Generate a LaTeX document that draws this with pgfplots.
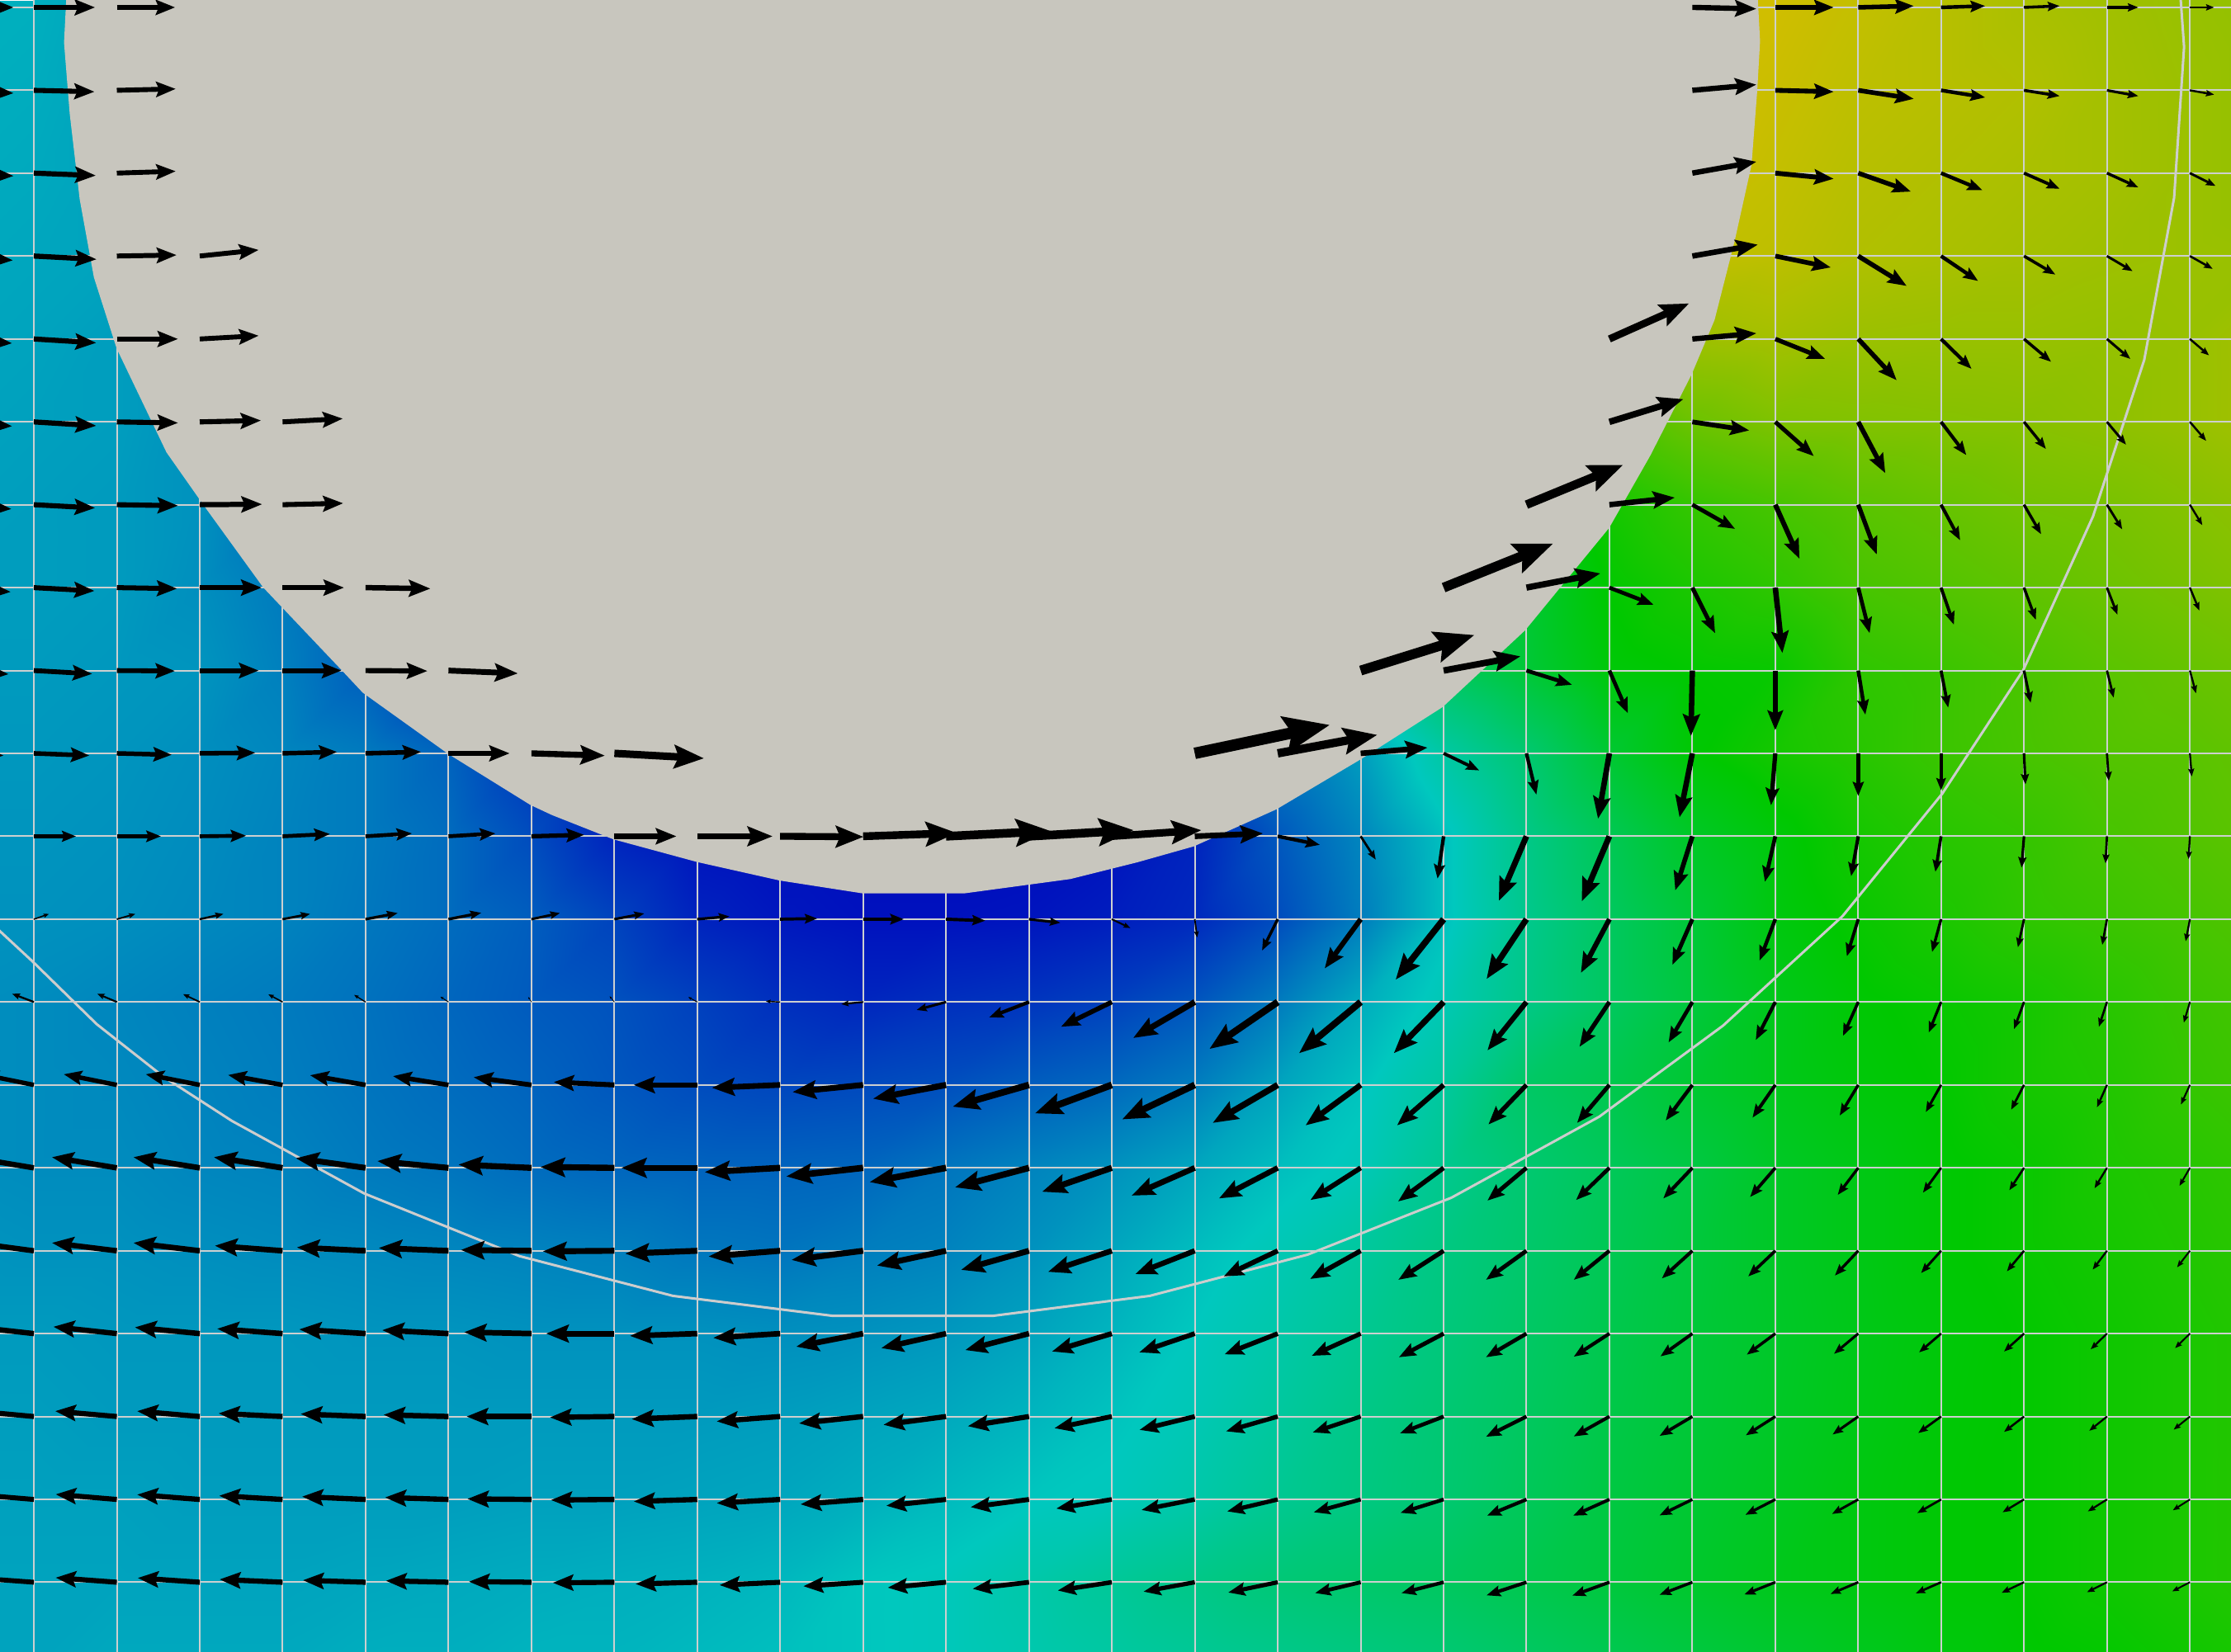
\documentclass[border=0pt]{standalone}
\usepackage{pgfplots}
\usepackage{pgfplotstable}
\pgfplotsset{compat=1.18}
\usetikzlibrary{arrows.meta}
\definecolor{diskgray}{RGB}{200,198,190}
\definecolor{meshline}{RGB}{205,208,208}
\definecolor{edgeline}{RGB}{205,205,205}

% scalar field on the mesh nodes (29 per row)
\pgfplotstableread[row sep=\\]{
x y s\\
-34.5 -53.7 29.5\\ 23.8 -53.7 29\\ 82.1 -53.7 27\\ 140.4 -53.7 24\\ 198.6 -53.7 18\\ 256.9 -53.7 12\\ 315.2 -53.7 8\\ 373.5 -53.7 5\\ 431.8 -53.7 3\\ 490 -53.7 2\\ 548.3 -53.7 2\\ 606.6 -53.7 2\\ 664.9 -53.7 2\\ 723.2 -53.7 2\\ 781.4 -53.7 2\\ 839.7 -53.7 4\\ 898 -53.7 20\\ 956.3 -53.7 40\\ 1014.6 -53.7 55\\ 1072.8 -53.7 70\\ 1131.1 -53.7 85\\ 1189.4 -53.7 100\\ 1247.7 -53.7 100\\ 1306 -53.7 98\\ 1364.2 -53.7 96\\ 1422.5 -53.7 94\\ 1480.8 -53.7 92.5\\ 1539.1 -53.7 91\\ 1597.4 -53.7 90\\
-34.5 4.6 29.5\\ 23.8 4.6 29\\ 82.1 4.6 27\\ 140.4 4.6 24\\ 198.6 4.6 18\\ 256.9 4.6 12\\ 315.2 4.6 8\\ 373.5 4.6 5\\ 431.8 4.6 3\\ 490 4.6 2\\ 548.3 4.6 2\\ 606.6 4.6 2\\ 664.9 4.6 2\\ 723.2 4.6 2\\ 781.4 4.6 2\\ 839.7 4.6 4\\ 898 4.6 20\\ 956.3 4.6 40\\ 1014.6 4.6 55\\ 1072.8 4.6 70\\ 1131.1 4.6 85\\ 1189.4 4.6 100\\ 1247.7 4.6 100\\ 1306 4.6 98\\ 1364.2 4.6 96\\ 1422.5 4.6 94\\ 1480.8 4.6 92.5\\ 1539.1 4.6 91\\ 1597.4 4.6 90\\
-34.5 62.9 29\\ 23.8 62.9 28.5\\ 82.1 62.9 27\\ 140.4 62.9 24\\ 198.6 62.9 18\\ 256.9 62.9 12\\ 315.2 62.9 8\\ 373.5 62.9 5\\ 431.8 62.9 3\\ 490 62.9 2\\ 548.3 62.9 2\\ 606.6 62.9 2\\ 664.9 62.9 2\\ 723.2 62.9 2\\ 781.4 62.9 2\\ 839.7 62.9 4\\ 898 62.9 20\\ 956.3 62.9 40\\ 1014.6 62.9 55\\ 1072.8 62.9 70\\ 1131.1 62.9 85\\ 1189.4 62.9 100\\ 1247.7 62.9 99\\ 1306 62.9 97\\ 1364.2 62.9 96\\ 1422.5 62.9 95\\ 1480.8 62.9 93\\ 1539.1 62.9 91.5\\ 1597.4 62.9 90\\
-34.5 121.1 28.5\\ 23.8 121.1 28\\ 82.1 121.1 27\\ 140.4 121.1 24\\ 198.6 121.1 18\\ 256.9 121.1 12\\ 315.2 121.1 8\\ 373.5 121.1 5\\ 431.8 121.1 3\\ 490 121.1 2\\ 548.3 121.1 2\\ 606.6 121.1 2\\ 664.9 121.1 2\\ 723.2 121.1 2\\ 781.4 121.1 2\\ 839.7 121.1 4\\ 898 121.1 20\\ 956.3 121.1 40\\ 1014.6 121.1 55\\ 1072.8 121.1 70\\ 1131.1 121.1 85\\ 1189.4 121.1 100\\ 1247.7 121.1 98\\ 1306 121.1 96\\ 1364.2 121.1 95\\ 1422.5 121.1 94\\ 1480.8 121.1 93\\ 1539.1 121.1 91.5\\ 1597.4 121.1 90\\
-34.5 179.4 28\\ 23.8 179.4 27.5\\ 82.1 179.4 27\\ 140.4 179.4 24\\ 198.6 179.4 18\\ 256.9 179.4 12\\ 315.2 179.4 8\\ 373.5 179.4 5\\ 431.8 179.4 3\\ 490 179.4 2\\ 548.3 179.4 2\\ 606.6 179.4 2\\ 664.9 179.4 2\\ 723.2 179.4 2\\ 781.4 179.4 2\\ 839.7 179.4 4\\ 898 179.4 20\\ 956.3 179.4 40\\ 1014.6 179.4 55\\ 1072.8 179.4 70\\ 1131.1 179.4 80\\ 1189.4 179.4 98\\ 1247.7 179.4 97\\ 1306 179.4 95\\ 1364.2 179.4 94\\ 1422.5 179.4 93\\ 1480.8 179.4 92\\ 1539.1 179.4 91.5\\ 1597.4 179.4 91\\
-34.5 237.7 27.5\\ 23.8 237.7 27\\ 82.1 237.7 26\\ 140.4 237.7 24\\ 198.6 237.7 18\\ 256.9 237.7 12\\ 315.2 237.7 8\\ 373.5 237.7 5\\ 431.8 237.7 3\\ 490 237.7 2\\ 548.3 237.7 2\\ 606.6 237.7 2\\ 664.9 237.7 2\\ 723.2 237.7 2\\ 781.4 237.7 2\\ 839.7 237.7 4\\ 898 237.7 20\\ 956.3 237.7 40\\ 1014.6 237.7 55\\ 1072.8 237.7 70\\ 1131.1 237.7 80\\ 1189.4 237.7 92\\ 1247.7 237.7 93\\ 1306 237.7 91.5\\ 1364.2 237.7 91\\ 1422.5 237.7 91\\ 1480.8 237.7 90.5\\ 1539.1 237.7 91\\ 1597.4 237.7 93\\
-34.5 296 27\\ 23.8 296 26.5\\ 82.1 296 26\\ 140.4 296 24\\ 198.6 296 18\\ 256.9 296 12\\ 315.2 296 8\\ 373.5 296 5\\ 431.8 296 3\\ 490 296 2\\ 548.3 296 2\\ 606.6 296 2\\ 664.9 296 2\\ 723.2 296 2\\ 781.4 296 2\\ 839.7 296 4\\ 898 296 20\\ 956.3 296 40\\ 1014.6 296 55\\ 1072.8 296 70\\ 1131.1 296 78\\ 1189.4 296 84\\ 1247.7 296 87\\ 1306 296 87.5\\ 1364.2 296 88\\ 1422.5 296 88.5\\ 1480.8 296 89.5\\ 1539.1 296 91\\ 1597.4 296 93\\
-34.5 354.2 26.5\\ 23.8 354.2 26\\ 82.1 354.2 25.5\\ 140.4 354.2 24\\ 198.6 354.2 18\\ 256.9 354.2 12\\ 315.2 354.2 8\\ 373.5 354.2 5\\ 431.8 354.2 3\\ 490 354.2 2\\ 548.3 354.2 2\\ 606.6 354.2 2\\ 664.9 354.2 2\\ 723.2 354.2 2\\ 781.4 354.2 2\\ 839.7 354.2 4\\ 898 354.2 20\\ 956.3 354.2 40\\ 1014.6 354.2 52\\ 1072.8 354.2 60\\ 1131.1 354.2 70\\ 1189.4 354.2 75\\ 1247.7 354.2 78\\ 1306 354.2 81\\ 1364.2 354.2 83\\ 1422.5 354.2 85\\ 1480.8 354.2 86\\ 1539.1 354.2 88\\ 1597.4 354.2 90\\
-34.5 412.5 26\\ 23.8 412.5 26\\ 82.1 412.5 25.5\\ 140.4 412.5 23.5\\ 198.6 412.5 20\\ 256.9 412.5 15\\ 315.2 412.5 8\\ 373.5 412.5 5\\ 431.8 412.5 3\\ 490 412.5 2\\ 548.3 412.5 2\\ 606.6 412.5 2\\ 664.9 412.5 2\\ 723.2 412.5 2\\ 781.4 412.5 2\\ 839.7 412.5 4\\ 898 412.5 20\\ 956.3 412.5 40\\ 1014.6 412.5 52\\ 1072.8 412.5 58\\ 1131.1 412.5 67\\ 1189.4 412.5 71\\ 1247.7 412.5 74\\ 1306 412.5 78\\ 1364.2 412.5 80\\ 1422.5 412.5 82\\ 1480.8 412.5 84\\ 1539.1 412.5 86\\ 1597.4 412.5 88\\
-34.5 470.8 25.5\\ 23.8 470.8 25.5\\ 82.1 470.8 25\\ 140.4 470.8 24.5\\ 198.6 470.8 21\\ 256.9 470.8 15\\ 315.2 470.8 8\\ 373.5 470.8 5\\ 431.8 470.8 3\\ 490 470.8 2\\ 548.3 470.8 2\\ 606.6 470.8 2\\ 664.9 470.8 2\\ 723.2 470.8 2\\ 781.4 470.8 2\\ 839.7 470.8 4\\ 898 470.8 20\\ 956.3 470.8 30\\ 1014.6 470.8 50\\ 1072.8 470.8 57\\ 1131.1 470.8 65\\ 1189.4 470.8 67\\ 1247.7 470.8 68\\ 1306 470.8 74\\ 1364.2 470.8 76\\ 1422.5 470.8 78.5\\ 1480.8 470.8 81\\ 1539.1 470.8 83\\ 1597.4 470.8 85\\
-34.5 529 25\\ 23.8 529 25\\ 82.1 529 24.5\\ 140.4 529 23.5\\ 198.6 529 22\\ 256.9 529 20\\ 315.2 529 16\\ 373.5 529 8\\ 431.8 529 5\\ 490 529 2\\ 548.3 529 2\\ 606.6 529 2\\ 664.9 529 2\\ 723.2 529 2\\ 781.4 529 2\\ 839.7 529 4\\ 898 529 20\\ 956.3 529 26\\ 1014.6 529 38\\ 1072.8 529 47\\ 1131.1 529 58\\ 1189.4 529 66\\ 1247.7 529 70\\ 1306 529 73\\ 1364.2 529 76\\ 1422.5 529 78\\ 1480.8 529 80\\ 1539.1 529 81\\ 1597.4 529 83\\
-34.5 587.3 24.5\\ 23.8 587.3 24.5\\ 82.1 587.3 24\\ 140.4 587.3 23\\ 198.6 587.3 21.5\\ 256.9 587.3 20\\ 315.2 587.3 17.5\\ 373.5 587.3 12\\ 431.8 587.3 5\\ 490 587.3 2\\ 548.3 587.3 1\\ 606.6 587.3 1\\ 664.9 587.3 1\\ 723.2 587.3 1\\ 781.4 587.3 2\\ 839.7 587.3 5\\ 898 587.3 14\\ 956.3 587.3 22\\ 1014.6 587.3 32\\ 1072.8 587.3 43\\ 1131.1 587.3 52\\ 1189.4 587.3 60\\ 1247.7 587.3 65\\ 1306 587.3 70\\ 1364.2 587.3 73\\ 1422.5 587.3 75\\ 1480.8 587.3 78\\ 1539.1 587.3 80\\ 1597.4 587.3 82\\
-34.5 645.6 24\\ 23.8 645.6 24\\ 82.1 645.6 23.5\\ 140.4 645.6 22.5\\ 198.6 645.6 21.5\\ 256.9 645.6 19.5\\ 315.2 645.6 17.5\\ 373.5 645.6 15\\ 431.8 645.6 10.5\\ 490 645.6 5\\ 548.3 645.6 3\\ 606.6 645.6 2\\ 664.9 645.6 2\\ 723.2 645.6 2.5\\ 781.4 645.6 4\\ 839.7 645.6 6\\ 898 645.6 12\\ 956.3 645.6 20.5\\ 1014.6 645.6 32\\ 1072.8 645.6 42\\ 1131.1 645.6 50\\ 1189.4 645.6 57\\ 1247.7 645.6 64\\ 1306 645.6 68\\ 1364.2 645.6 71\\ 1422.5 645.6 74\\ 1480.8 645.6 76\\ 1539.1 645.6 78\\ 1597.4 645.6 80\\
-34.5 703.8 23.5\\ 23.8 703.8 23\\ 82.1 703.8 22\\ 140.4 703.8 21\\ 198.6 703.8 20\\ 256.9 703.8 18.5\\ 315.2 703.8 16.5\\ 373.5 703.8 14.5\\ 431.8 703.8 13\\ 490 703.8 10\\ 548.3 703.8 7\\ 606.6 703.8 5.5\\ 664.9 703.8 7\\ 723.2 703.8 8\\ 781.4 703.8 10\\ 839.7 703.8 13.5\\ 898 703.8 20\\ 956.3 703.8 28.5\\ 1014.6 703.8 35\\ 1072.8 703.8 43\\ 1131.1 703.8 50\\ 1189.4 703.8 56\\ 1247.7 703.8 62\\ 1306 703.8 66\\ 1364.2 703.8 68\\ 1422.5 703.8 70\\ 1480.8 703.8 73\\ 1539.1 703.8 76\\ 1597.4 703.8 78\\
-34.5 762.1 23.5\\ 23.8 762.1 23\\ 82.1 762.1 22.5\\ 140.4 762.1 21.5\\ 198.6 762.1 20.5\\ 256.9 762.1 19\\ 315.2 762.1 17.5\\ 373.5 762.1 16\\ 431.8 762.1 14\\ 490 762.1 12\\ 548.3 762.1 11\\ 606.6 762.1 11.5\\ 664.9 762.1 12.5\\ 723.2 762.1 15\\ 781.4 762.1 17\\ 839.7 762.1 20.5\\ 898 762.1 27\\ 956.3 762.1 32.5\\ 1014.6 762.1 39\\ 1072.8 762.1 49\\ 1131.1 762.1 53\\ 1189.4 762.1 58\\ 1247.7 762.1 62\\ 1306 762.1 65\\ 1364.2 762.1 67\\ 1422.5 762.1 70\\ 1480.8 762.1 72\\ 1539.1 762.1 75\\ 1597.4 762.1 77\\
-34.5 820.4 23.5\\ 23.8 820.4 23\\ 82.1 820.4 23\\ 140.4 820.4 22\\ 198.6 820.4 21.5\\ 256.9 820.4 20\\ 315.2 820.4 19\\ 373.5 820.4 17.5\\ 431.8 820.4 16.5\\ 490 820.4 16\\ 548.3 820.4 16\\ 606.6 820.4 16.5\\ 664.9 820.4 19\\ 723.2 820.4 21.5\\ 781.4 820.4 24\\ 839.7 820.4 27.5\\ 898 820.4 31.5\\ 956.3 820.4 34.5\\ 1014.6 820.4 41.5\\ 1072.8 820.4 47\\ 1131.1 820.4 51\\ 1189.4 820.4 55\\ 1247.7 820.4 60\\ 1306 820.4 63\\ 1364.2 820.4 66\\ 1422.5 820.4 68\\ 1480.8 820.4 71\\ 1539.1 820.4 73\\ 1597.4 820.4 75\\
-34.5 878.7 24.5\\ 23.8 878.7 24\\ 82.1 878.7 24\\ 140.4 878.7 23.5\\ 198.6 878.7 23\\ 256.9 878.7 22.5\\ 315.2 878.7 22\\ 373.5 878.7 21.5\\ 431.8 878.7 21\\ 490 878.7 19.5\\ 548.3 878.7 19\\ 606.6 878.7 20.5\\ 664.9 878.7 21.5\\ 723.2 878.7 24\\ 781.4 878.7 27.5\\ 839.7 878.7 31.5\\ 898 878.7 35\\ 956.3 878.7 39\\ 1014.6 878.7 44\\ 1072.8 878.7 48\\ 1131.1 878.7 52\\ 1189.4 878.7 56\\ 1247.7 878.7 60\\ 1306 878.7 63\\ 1364.2 878.7 66\\ 1422.5 878.7 68\\ 1480.8 878.7 70\\ 1539.1 878.7 72\\ 1597.4 878.7 74\\
-34.5 936.9 25.5\\ 23.8 936.9 25.5\\ 82.1 936.9 25\\ 140.4 936.9 25\\ 198.6 936.9 25\\ 256.9 936.9 24.5\\ 315.2 936.9 24.5\\ 373.5 936.9 24\\ 431.8 936.9 24\\ 490 936.9 24\\ 548.3 936.9 23.5\\ 606.6 936.9 24\\ 664.9 936.9 25\\ 723.2 936.9 27\\ 781.4 936.9 30\\ 839.7 936.9 33.5\\ 898 936.9 37\\ 956.3 936.9 41\\ 1014.6 936.9 45\\ 1072.8 936.9 49\\ 1131.1 936.9 53\\ 1189.4 936.9 56.5\\ 1247.7 936.9 59.5\\ 1306 936.9 62.5\\ 1364.2 936.9 65\\ 1422.5 936.9 67\\ 1480.8 936.9 69\\ 1539.1 936.9 71\\ 1597.4 936.9 73\\
-34.5 995.2 26\\ 23.8 995.2 26\\ 82.1 995.2 25.5\\ 140.4 995.2 25.5\\ 198.6 995.2 25.5\\ 256.9 995.2 25.5\\ 315.2 995.2 25.5\\ 373.5 995.2 25.5\\ 431.8 995.2 25.5\\ 490 995.2 25.5\\ 548.3 995.2 26\\ 606.6 995.2 27\\ 664.9 995.2 28\\ 723.2 995.2 30\\ 781.4 995.2 32.5\\ 839.7 995.2 35\\ 898 995.2 39\\ 956.3 995.2 43\\ 1014.6 995.2 46.5\\ 1072.8 995.2 50\\ 1131.1 995.2 54\\ 1189.4 995.2 57\\ 1247.7 995.2 60\\ 1306 995.2 63\\ 1364.2 995.2 65.5\\ 1422.5 995.2 67\\ 1480.8 995.2 69\\ 1539.1 995.2 71\\ 1597.4 995.2 73\\
-34.5 1053.5 26.5\\ 23.8 1053.5 26.5\\ 82.1 1053.5 26.5\\ 140.4 1053.5 26\\ 198.6 1053.5 26\\ 256.9 1053.5 26\\ 315.2 1053.5 26\\ 373.5 1053.5 26.5\\ 431.8 1053.5 26.5\\ 490 1053.5 27\\ 548.3 1053.5 27.5\\ 606.6 1053.5 29\\ 664.9 1053.5 31\\ 723.2 1053.5 33\\ 781.4 1053.5 34\\ 839.7 1053.5 37\\ 898 1053.5 41\\ 956.3 1053.5 44\\ 1014.6 1053.5 47\\ 1072.8 1053.5 51\\ 1131.1 1053.5 55\\ 1189.4 1053.5 58\\ 1247.7 1053.5 61\\ 1306 1053.5 64\\ 1364.2 1053.5 66\\ 1422.5 1053.5 67\\ 1480.8 1053.5 69\\ 1539.1 1053.5 71\\ 1597.4 1053.5 73\\
-34.5 1111.7 27\\ 23.8 1111.7 27\\ 82.1 1111.7 27\\ 140.4 1111.7 27\\ 198.6 1111.7 27\\ 256.9 1111.7 27.5\\ 315.2 1111.7 28\\ 373.5 1111.7 28.5\\ 431.8 1111.7 29\\ 490 1111.7 29.5\\ 548.3 1111.7 30.5\\ 606.6 1111.7 33\\ 664.9 1111.7 34\\ 723.2 1111.7 37\\ 781.4 1111.7 40\\ 839.7 1111.7 43\\ 898 1111.7 46\\ 956.3 1111.7 48\\ 1014.6 1111.7 50\\ 1072.8 1111.7 53\\ 1131.1 1111.7 56\\ 1189.4 1111.7 59\\ 1247.7 1111.7 62\\ 1306 1111.7 64\\ 1364.2 1111.7 66\\ 1422.5 1111.7 67\\ 1480.8 1111.7 69\\ 1539.1 1111.7 71\\ 1597.4 1111.7 73\\
-34.5 1170 27\\ 23.8 1170 27\\ 82.1 1170 28\\ 140.4 1170 28\\ 198.6 1170 28\\ 256.9 1170 29\\ 315.2 1170 29\\ 373.5 1170 30\\ 431.8 1170 30\\ 490 1170 31\\ 548.3 1170 32\\ 606.6 1170 33\\ 664.9 1170 34\\ 723.2 1170 36\\ 781.4 1170 38\\ 839.7 1170 40\\ 898 1170 42\\ 956.3 1170 44\\ 1014.6 1170 46\\ 1072.8 1170 49\\ 1131.1 1170 52\\ 1189.4 1170 55\\ 1247.7 1170 58\\ 1306 1170 61\\ 1364.2 1170 64\\ 1422.5 1170 66\\ 1480.8 1170 67\\ 1539.1 1170 69\\ 1597.4 1170 71\\
}\field

% velocity vectors: tail x y, then u v
\pgfplotstableread[row sep=\\]{
x y u v\\
-34.5 5.2 44 0\\ 23.8 5.2 43 0\\ 82.1 5.2 41 0\\ 1189.4 5.2 45 1\\ 1247.7 5.2 41 0\\ 1306 5.2 39 -1\\ 1364.2 5.2 31 -1\\ 1422.5 5.2 25 -1\\ 1480.8 5.2 22 0\\ 1539.1 5.2 17 0\\
-34.5 63.5 44 2\\ 23.8 63.5 42.6 1\\ 82.1 63.5 41.4 -1\\ 1189.4 63.5 45 -4\\ 1247.7 63.5 41 1\\ 1306 63.5 39 6\\ 1364.2 63.5 31 5\\ 1422.5 63.5 25 4\\ 1480.8 63.5 22 4\\ 1539.1 63.5 17 3\\
-34.5 121.7 44 2\\ 23.8 121.7 43.5 1.7\\ 82.1 121.7 41.4 -1.3\\ 1189.4 121.7 45 -8\\ 1247.7 121.7 41 4\\ 1306 121.7 37 13\\ 1364.2 121.7 29 12\\ 1422.5 121.7 25 11\\ 1480.8 121.7 22 10\\ 1539.1 121.7 18 9\\
-34.5 180 43.5 3\\ 23.8 180 44 2.3\\ 82.1 180 42 -0.7\\ 140.4 180 41.4 -4.3\\ 1189.4 180 46 -8\\ 1247.7 180 39 8\\ 1306 180 34 21\\ 1364.2 180 26 17.5\\ 1422.5 180 22 13\\ 1480.8 180 18 10.6\\ 1539.1 180 16 9\\
-34.5 238.3 43 3\\ 23.8 238.3 43.8 2.7\\ 82.1 238.3 43 0\\ 140.4 238.3 41.4 -2.3\\ 1131.1 238.3 56 -25\\ 1189.4 238.3 45 -4\\ 1247.7 238.3 35 14\\ 1306 238.3 27 29\\ 1364.2 238.3 21.4 21\\ 1422.5 238.3 19 16\\ 1480.8 238.3 16.4 14\\ 1539.1 238.3 13.4 11.5\\
-34.5 296.6 43 3\\ 23.8 296.6 43.8 2.7\\ 82.1 296.6 43 0.7\\ 140.4 296.6 43 -1\\ 198.6 296.6 42.3 -2.3\\ 1131.1 296.6 52 -16\\ 1189.4 296.6 40 6\\ 1247.7 296.6 27 24\\ 1306 296.6 19 36\\ 1364.2 296.6 17.7 23.3\\ 1422.5 296.6 15.4 19\\ 1480.8 296.6 13.4 16\\ 1539.1 296.6 11.4 13.3\\
-34.5 354.8 42.5 3\\ 23.8 354.8 43 2.3\\ 82.1 354.8 43 0.7\\ 140.4 354.8 43.8 -0.3\\ 198.6 354.8 42.6 -1\\ 1072.8 354.8 68 -28\\ 1131.1 354.8 46 -5\\ 1189.4 354.8 30 17\\ 1247.7 354.8 17 38\\ 1306 354.8 13 35\\ 1364.2 354.8 13.4 25\\ 1422.5 354.8 12 20.7\\ 1480.8 354.8 10.7 17.3\\ 1539.1 354.8 8.7 14.4\\
-34.5 413.1 42 3\\ 23.8 413.1 42.6 2.3\\ 82.1 413.1 42.3 0.7\\ 140.4 413.1 43.5 0\\ 198.6 413.1 43.2 0\\ 256.9 413.1 45.6 0.7\\ 1014.6 413.1 77 -31\\ 1072.8 413.1 52 -10\\ 1131.1 413.1 31 12\\ 1189.4 413.1 16 32\\ 1247.7 413.1 5 46\\ 1306 413.1 8 32\\ 1364.2 413.1 9 26\\ 1422.5 413.1 8.3 22.6\\ 1480.8 413.1 7.4 19\\ 1539.1 413.1 6.7 16.2\\
-34.5 471.4 40.5 2.5\\ 23.8 471.4 41 2.3\\ 82.1 471.4 40.8 0.3\\ 140.4 471.4 41.4 0\\ 198.6 471.4 41.4 0\\ 256.9 471.4 43.5 0.3\\ 315.2 471.4 48.8 2\\ 956.3 471.4 80 -25\\ 1014.6 471.4 54 -10\\ 1072.8 471.4 32 10\\ 1131.1 471.4 13 30\\ 1189.4 471.4 -1 46\\ 1247.7 471.4 0 42\\ 1306 471.4 5 31\\ 1364.2 471.4 5 26\\ 1422.5 471.4 4.7 22.6\\ 1480.8 471.4 4.7 19\\ 1539.1 471.4 4.3 16\\
-34.5 529.6 37 1.5\\ 23.8 529.6 39 1.5\\ 82.1 529.6 38.6 1\\ 140.4 529.6 39 -0.4\\ 198.6 529.6 38.3 -1\\ 256.9 529.6 39 -1\\ 315.2 529.6 43 0\\ 373.5 529.6 51.6 1.6\\ 431.8 529.6 63 3.5\\ 839.7 529.6 95 -20\\ 898 529.6 70 -13\\ 956.3 529.6 47 -4\\ 1014.6 529.6 25 12\\ 1072.8 529.6 7 29\\ 1131.1 529.6 -8 46\\ 1189.4 529.6 -9 45\\ 1247.7 529.6 -3 36.5\\ 1306 529.6 0 30\\ 1364.2 529.6 0 26\\ 1422.5 529.6 1 21.8\\ 1480.8 529.6 1.3 19.3\\ 1539.1 529.6 1.3 16.2\\
23.8 587.9 29.6 0\\ 82.1 587.9 31 0\\ 140.4 587.9 32.6 -0.4\\ 198.6 587.9 33.3 -1.6\\ 256.9 587.9 32.6 -2\\ 315.2 587.9 33 -2\\ 373.5 587.9 37 -1\\ 431.8 587.9 43.6 0\\ 490 587.9 53 0\\ 548.3 587.9 58.6 0.4\\ 606.6 587.9 66 -2.3\\ 664.9 587.9 73.6 -3.7\\ 723.2 587.9 73.6 -4.3\\ 781.4 587.9 63 -4.3\\ 839.7 587.9 48 -2\\ 898 587.9 29.6 6\\ 956.3 587.9 10.6 16.4\\ 1014.6 587.9 -4.3 29.8\\ 1072.8 587.9 -19.4 45.4\\ 1131.1 587.9 -19.4 45.8\\ 1189.4 587.9 -12 38\\ 1247.7 587.9 -7.3 32\\ 1306 587.9 -5 28\\ 1364.2 587.9 -4 25\\ 1422.5 587.9 -1.7 22\\ 1480.8 587.9 -1 19\\ 1539.1 587.9 -1 16\\
23.8 646.2 10.6 -3.7\\ 82.1 646.2 13 -3.7\\ 140.4 646.2 16.6 -3.7\\ 198.6 646.2 19.3 -3.7\\ 256.9 646.2 22.6 -4.3\\ 315.2 646.2 23 -4.5\\ 373.5 646.2 20 -4.3\\ 431.8 646.2 21 -4\\ 490 646.2 22.6 -2\\ 548.3 646.2 26 -0.5\\ 606.6 646.2 28.6 0\\ 664.9 646.2 27.6 1\\ 723.2 646.2 22 2.5\\ 781.4 646.2 13 6.2\\ 839.7 646.2 1.7 12.8\\ 898 646.2 -11 22\\ 956.3 646.2 -25.3 34.6\\ 1014.6 646.2 -33.7 42.5\\ 1072.8 646.2 -28 42\\ 1131.1 646.2 -20 37.7\\ 1189.4 646.2 -14 32\\ 1247.7 646.2 -11 29\\ 1306 646.2 -8 26\\ 1364.2 646.2 -6.3 23\\ 1422.5 646.2 -4.3 19.7\\ 1480.8 646.2 -3.3 18\\ 1539.1 646.2 -3 15.5\\
23.8 704.4 -15.3 -5.8\\ 82.1 704.4 -13.7 -5.8\\ 140.4 704.4 -11.7 -5.5\\ 198.6 704.4 -10 -5.4\\ 256.9 704.4 -8 -5\\ 315.2 704.4 -5.7 -3.7\\ 373.5 704.4 -2.3 -3.5\\ 431.8 704.4 -3.3 -4\\ 490 704.4 -6.3 -3.5\\ 548.3 704.4 -10 -0.5\\ 606.6 704.4 -15.3 1.5\\ 664.9 704.4 -20.7 5.6\\ 723.2 704.4 -28 10.8\\ 781.4 704.4 -35.7 17.4\\ 839.7 704.4 -43.3 25.3\\ 898 704.4 -48 33\\ 956.3 704.4 -43.3 36\\ 1014.6 704.4 -35 36\\ 1072.8 704.4 -27.4 34\\ 1131.1 704.4 -21 31.5\\ 1189.4 704.4 -16.7 28.4\\ 1247.7 704.4 -13.7 26.7\\ 1306 704.4 -10.7 23.8\\ 1364.2 704.4 -8.7 21.5\\ 1422.5 704.4 -7 19\\ 1480.8 704.4 -5.7 17.4\\ 1539.1 704.4 -4.3 14.5\\
23.8 762.7 -37 -7.5\\ 82.1 762.7 -37.3 -7.5\\ 140.4 762.7 -38 -7.5\\ 198.6 762.7 -38.3 -7\\ 256.9 762.7 -39 -6.8\\ 315.2 762.7 -39 -6.2\\ 373.5 762.7 -40.6 -5.4\\ 431.8 762.7 -42.6 -2\\ 490 762.7 -44.6 0\\ 548.3 762.7 -48 2\\ 606.6 762.7 -49.6 5\\ 664.9 762.7 -51.3 9.7\\ 723.2 762.7 -53.6 15.3\\ 781.4 762.7 -54 20\\ 839.7 762.7 -51 24.2\\ 898 762.7 -45.7 26.7\\ 956.3 762.7 -38.7 28.4\\ 1014.6 762.7 -32.7 28.4\\ 1072.8 762.7 -26.7 27.8\\ 1131.1 762.7 -22.7 26.7\\ 1189.4 762.7 -18.7 25\\ 1247.7 762.7 -16 23\\ 1306 762.7 -13 21.5\\ 1364.2 762.7 -10.7 19\\ 1422.5 762.7 -9 17.4\\ 1480.8 762.7 -7 15.7\\ 1539.1 762.7 -6.3 13.7\\
23.8 821 -45 -7.5\\ 82.1 821 -45.6 -7.5\\ 140.4 821 -46.6 -7.5\\ 198.6 821 -48.3 -7.5\\ 256.9 821 -49 -6.8\\ 315.2 821 -50 -4.8\\ 373.5 821 -51.3 -2.3\\ 431.8 821 -52 -0.6\\ 490 821 -53.3 0\\ 548.3 821 -53 3\\ 606.6 821 -54 6\\ 664.9 821 -53.7 10\\ 723.2 821 -52 13.7\\ 781.4 821 -49 16.8\\ 839.7 821 -44.3 19.5\\ 898 821 -41.3 21.5\\ 956.3 821 -35.3 22.6\\ 1014.6 821 -32 23.6\\ 1072.8 821 -27.4 23\\ 1131.1 821 -23.4 22.6\\ 1189.4 821 -20.4 21.5\\ 1247.7 821 -17.7 20.5\\ 1306 821 -14.4 19\\ 1364.2 821 -12.7 17.4\\ 1422.5 821 -10.3 15.7\\ 1480.8 821 -8.7 14.3\\ 1539.1 821 -7.3 12.6\\
23.8 879.3 -45 -6\\ 82.1 879.3 -45.6 -5.6\\ 140.4 879.3 -46.6 -5.6\\ 198.6 879.3 -47.6 -3.6\\ 256.9 879.3 -48.3 -2.4\\ 315.2 879.3 -49 -2\\ 373.5 879.3 -49.6 -0.6\\ 431.8 879.3 -50.3 0.4\\ 490 879.3 -50.6 2\\ 548.3 879.3 -50.3 4\\ 606.6 879.3 -50.3 6.4\\ 664.9 879.3 -48.5 10.4\\ 723.2 879.3 -47.7 13.4\\ 781.4 879.3 -44.8 14.8\\ 839.7 879.3 -41.8 16.4\\ 898 879.3 -38 18\\ 956.3 879.3 -35.5 19.8\\ 1014.6 879.3 -31.8 20.4\\ 1072.8 879.3 -28.4 20.4\\ 1131.1 879.3 -25 20.4\\ 1189.4 879.3 -21.4 19.4\\ 1247.7 879.3 -19 18\\ 1306 879.3 -16.4 17.4\\ 1364.2 879.3 -14 15.6\\ 1422.5 879.3 -12 14.4\\ 1480.8 879.3 -10 13.2\\ 1539.1 879.3 -9 11.6\\
23.8 937.5 -45 -5\\ 82.1 937.5 -44.6 -4.8\\ 140.4 937.5 -45.6 -4.4\\ 198.6 937.5 -46 -3.4\\ 256.9 937.5 -46.6 -3\\ 315.2 937.5 -46.6 -2.4\\ 373.5 937.5 -47.3 -1\\ 431.8 937.5 -48 0\\ 490 937.5 -47.3 1.6\\ 548.3 937.5 -47 3\\ 606.6 937.5 -47 9.2\\ 664.9 937.5 -45.5 10.2\\ 723.2 937.5 -44.8 11.6\\ 781.4 937.5 -42 12.6\\ 839.7 937.5 -39 13.2\\ 898 937.5 -37.4 14.6\\ 956.3 937.5 -34.4 15.6\\ 1014.6 937.5 -31.4 16.6\\ 1072.8 937.5 -28.4 16.6\\ 1131.1 937.5 -25 16.2\\ 1189.4 937.5 -22.4 16\\ 1247.7 937.5 -20 14.8\\ 1306 937.5 -17 14.2\\ 1364.2 937.5 -15.4 13.2\\ 1422.5 937.5 -14 12.6\\ 1480.8 937.5 -11.4 11\\ 1539.1 937.5 -10.4 10.2\\
23.8 995.8 -43 -4\\ 82.1 995.8 -43.3 -3.8\\ 140.4 995.8 -44 -3.8\\ 198.6 995.8 -45 -2.2\\ 256.9 995.8 -45.6 -1.8\\ 315.2 995.8 -45.6 -1.2\\ 373.5 995.8 -45.6 0\\ 431.8 995.8 -45.3 0.6\\ 490 995.8 -46 1.8\\ 548.3 995.8 -44.6 3.4\\ 606.6 995.8 -45 4.8\\ 664.9 995.8 -44 5.8\\ 723.2 995.8 -43 6.8\\ 781.4 995.8 -40.3 8.2\\ 839.7 995.8 -38.8 9.4\\ 898 995.8 -36.3 10.4\\ 956.3 995.8 -33.7 11.2\\ 1014.6 995.8 -30.7 11.8\\ 1072.8 995.8 -28.4 14.2\\ 1131.1 995.8 -25 14\\ 1189.4 995.8 -23 13.6\\ 1247.7 995.8 -20.7 13.2\\ 1306 995.8 -18 12.6\\ 1364.2 995.8 -16 11.6\\ 1422.5 995.8 -14 10.8\\ 1480.8 995.8 -12.4 10\\ 1539.1 995.8 -11.4 9.2\\
23.8 1054.1 -42 -3.5\\ 82.1 1054.1 -43 -3.6\\ 140.4 1054.1 -44 -3.4\\ 198.6 1054.1 -44.6 -2.6\\ 256.9 1054.1 -44.6 -2\\ 315.2 1054.1 -44.6 -1.4\\ 373.5 1054.1 -45 -0.4\\ 431.8 1054.1 -44.6 0.4\\ 490 1054.1 -44.6 1.4\\ 548.3 1054.1 -44.6 2.6\\ 606.6 1054.1 -44 3.4\\ 664.9 1054.1 -42 4.4\\ 723.2 1054.1 -41 5.4\\ 781.4 1054.1 -39 6.4\\ 839.7 1054.1 -37.4 7.4\\ 898 1054.1 -35.5 8.4\\ 956.3 1054.1 -33 9\\ 1014.6 1054.1 -30.3 9.4\\ 1072.8 1054.1 -27.7 11.4\\ 1131.1 1054.1 -25.4 11.4\\ 1189.4 1054.1 -23 11.2\\ 1247.7 1054.1 -21 10.8\\ 1306 1054.1 -18.4 10.2\\ 1364.2 1054.1 -16.7 9.6\\ 1422.5 1054.1 -15 9\\ 1480.8 1054.1 -13.4 8.4\\ 1539.1 1054.1 -12 7.6\\
23.8 1112.3 -41 -3\\ 82.1 1112.3 -43 -3.2\\ 140.4 1112.3 -43.6 -3\\ 198.6 1112.3 -44.3 -2\\ 256.9 1112.3 -44 -1.4\\ 315.2 1112.3 -44 -1\\ 373.5 1112.3 -44 -0.4\\ 431.8 1112.3 -43.3 0.4\\ 490 1112.3 -43.3 1.2\\ 548.3 1112.3 -42.6 2\\ 606.6 1112.3 -42 2.8\\ 664.9 1112.3 -41 3.8\\ 723.2 1112.3 -39.6 4.6\\ 781.4 1112.3 -38 5.8\\ 839.7 1112.3 -36 6.6\\ 898 1112.3 -34.8 7.2\\ 956.3 1112.3 -32 7.6\\ 1014.6 1112.3 -29.6 7.6\\ 1072.8 1112.3 -28 9.2\\ 1131.1 1112.3 -26 9.4\\ 1189.4 1112.3 -23 8.8\\ 1247.7 1112.3 -21.7 8.6\\ 1306 1112.3 -19.4 8.2\\ 1364.2 1112.3 -17.7 7.8\\ 1422.5 1112.3 -15.7 7.4\\ 1480.8 1112.3 -14 7\\ 1539.1 1112.3 -12.4 6.4\\
}\vectors

\begin{document}
\begin{tikzpicture}
\path[use as bounding box] (0,0) rectangle (15.68cm,11.61cm);
\begin{axis}[
    at={(0,0)}, anchor=south west,
    scale only axis,
    width=15.68cm, height=11.61cm,
    xmin=0, xmax=1568, ymin=0, ymax=1161,
    y dir=reverse,
    hide axis,
    point meta min=0, point meta max=100,
    colormap={cfd}{rgb255=(0,6,190) rgb255=(0,200,190) rgb255=(0,200,0) rgb255=(208,190,0)},
]
% field
\addplot[surf, shader=interp, mesh/cols=29, point meta=explicit]
    table[x=x, y=y, meta=s] {\field};

% mesh lines, run as one path that turns outside the frame
\addplot[meshline, line width=0.33pt] coordinates {
    (23.8,-9)(23.8,1170)(82.1,1170)(82.1,-9)(140.4,-9)(140.4,1170)(198.6,1170)(198.6,-9)
    (256.9,-9)(256.9,1170)(315.2,1170)(315.2,-9)(373.5,-9)(373.5,1170)(431.8,1170)(431.8,-9)
    (490,-9)(490,1170)(548.3,1170)(548.3,-9)(606.6,-9)(606.6,1170)(664.9,1170)(664.9,-9)
    (723.2,-9)(723.2,1170)(781.4,1170)(781.4,-9)(839.7,-9)(839.7,1170)(898,1170)(898,-9)
    (956.3,-9)(956.3,1170)(1014.6,1170)(1014.6,-9)(1072.8,-9)(1072.8,1170)(1131.1,1170)(1131.1,-9)
    (1189.4,-9)(1189.4,1170)(1247.7,1170)(1247.7,-9)(1306,-9)(1306,1170)(1364.2,1170)(1364.2,-9)
    (1422.5,-9)(1422.5,1170)(1480.8,1170)(1480.8,-9)(1539.1,-9)(1539.1,1170)
};
\addplot[meshline, line width=0.33pt] coordinates {
    (-9,5.2)(1577,5.2)(1577,63.5)(-9,63.5)(-9,121.7)(1577,121.7)(1577,180)(-9,180)
    (-9,238.3)(1577,238.3)(1577,296.6)(-9,296.6)(-9,354.8)(1577,354.8)(1577,413.1)(-9,413.1)
    (-9,471.4)(1577,471.4)(1577,529.6)(-9,529.6)(-9,587.9)(1577,587.9)(1577,646.2)(-9,646.2)
    (-9,704.4)(1577,704.4)(1577,762.7)(-9,762.7)(-9,821)(1577,821)(1577,879.3)(-9,879.3)
    (-9,937.5)(1577,937.5)(1577,995.8)(-9,995.8)(-9,1054.1)(1577,1054.1)(1577,1112.3)(-9,1112.3)
};

% the solid body
\addplot[fill=diskgray, draw=none] coordinates {
    (47,-9)(45,30)(49,80)(56,140)(66,195)(82,245)(117,318)(143,355)(185,413)(240,471)(255,487)
    (315,530)(373,566)(388,573)(431,590)(490,606)(548,619)(606,628)(678,628)(752,618)(800,606)
    (839,595)(897,569)(956,534)(1014,497)(1072,443)(1131,371)(1160,320)(1189,263)(1205,225)
    (1219,170)(1231,116)(1235,64)(1237,29)(1235,-9)
} \closedcycle;

% edge of the boundary layer
\addplot[edgeline, line width=0.5pt] coordinates {
    (-5,650)(23,676)(68,720)(115,757)(163,788)(256,839)(365,883)(473,911)(585,925)(698,925)
    (808,911)(919,882)(1020,842)(1124,785)(1211,721)(1295,644)(1365,558)(1422,471)(1471,363)
    (1507,253)(1528,139)(1535,33)(1532,-9)
};

% vectors
\addplot[black, point meta={sqrt(\thisrow{u}^2+\thisrow{v}^2)},
    quiver={u=\thisrow{u}, v=\thisrow{v},
        every arrow/.append style={
            line width=0.00235pt*\pgfplotspointmetatransformed,
            -{Stealth[length=0pt 4 0, width=0pt 3.1 0, inset=0pt 0.6 0]}}}]
    table[x=x, y=y] {\vectors};
\end{axis}
\end{tikzpicture}
\end{document}
